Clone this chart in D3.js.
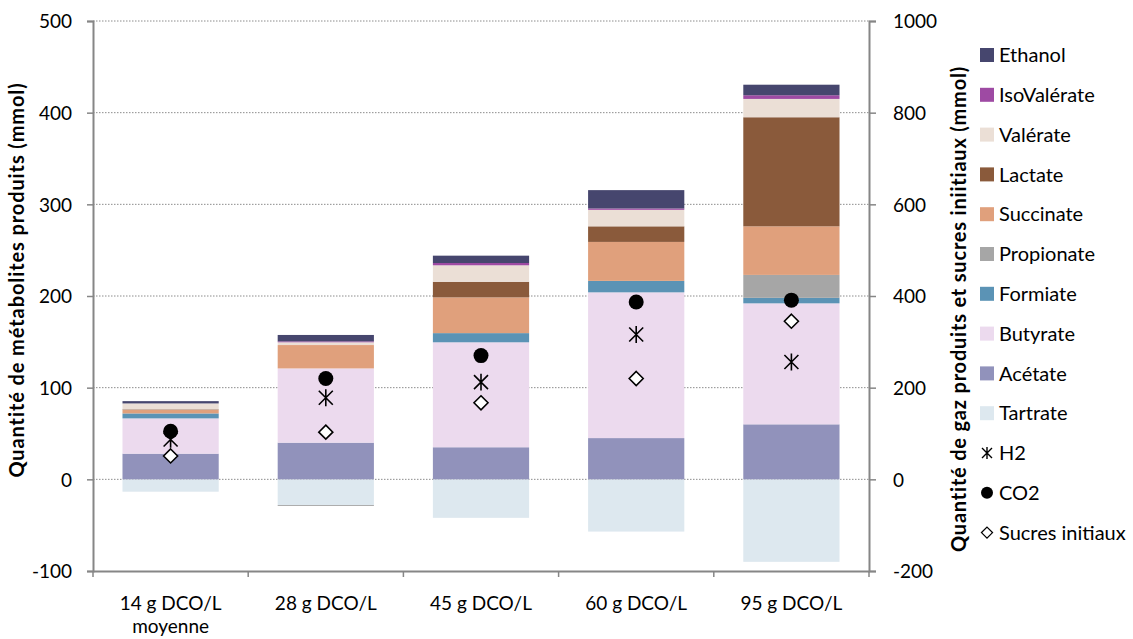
<!DOCTYPE html>
<html><head><meta charset="utf-8">
<script src="https://cdn.jsdelivr.net/npm/d3@7"></script>
<style>body{margin:0;background:#fff;} svg{display:block;font-family:Lato,"Open Sans",sans-serif;}</style>
</head><body><svg id="c" width="1133" height="639"></svg>
<script>
const categories = ["14 g DCO/L|moyenne","28 g DCO/L","45 g DCO/L","60 g DCO/L","95 g DCO/L"];
const seriesNames = ["Tartrate","Acétate","Butyrate","Formiate","Propionate","Succinate","Lactate","Valérate","IsoValérate","Ethanol"];
const tartrate   = [-13.5, -28, -42, -57, -90];
const acetate    = [28, 40, 35, 45, 60];
const butyrate   = [38.5, 81, 114.5, 159, 132];
const formiate   = [5.4, 0, 10, 12.5, 6];
const propionate = [0, -1, 0, 0, 25];
const succinate  = [3.7, 25.5, 39, 42.5, 53];
const lactate    = [0.7, 0, 17, 17, 119];
const valerate   = [6.5, 3, 18, 18, 20];
const isovalerate= [0, 1, 2.5, 1.5, 4];
const ethanol    = [2.5, 7, 8, 20, 11.5];
const h2     = [87, 178, 212, 316, 256];
const co2    = [105, 220, 270, 387, 391];
const sucres = [51, 103, 167, 220, 345];
const leftTicks = [-100,0,100,200,300,400,500];
const rightTicks = [-200,0,200,400,600,800,1000];
const colors = {"Tartrate":"#dde8ef","Acétate":"#9192bb","Butyrate":"#ecdaee","Formiate":"#5b93b5","Propionate":"#a6a6a6","Succinate":"#e0a07c","Lactate":"#8a5a3b","Valérate":"#ebdfd6","IsoValérate":"#9e4aa3","Ethanol":"#46466e"};
const seriesVals = [tartrate,acetate,butyrate,formiate,propionate,succinate,lactate,valerate,isovalerate,ethanol];

const rows = categories.map((c,i)=>{const r={cat:c}; seriesNames.forEach((s,j)=>r[s]=seriesVals[j][i]); return r;});
const svg = d3.select("#c");
const L=93, R=869, T=21, B=571;
const x = d3.scaleBand().domain(categories).range([L,R]).paddingInner(0.38).paddingOuter(0.19);
const y = d3.scaleLinear().domain([-100,500]).range([B,T]);
const y2 = d3.scaleLinear().domain([-200,1000]).range([B,T]);
const fmt = d=>String(d);

// gridlines
svg.append("g").selectAll("line").data(leftTicks.filter(t=>t>-100)).join("line")
  .attr("x1",L).attr("x2",R).attr("y1",d=>y(d)).attr("y2",d=>y(d))
  .attr("stroke","#8c8c8c").attr("stroke-width",1).attr("stroke-dasharray","1.5,1.5");

// bars
const stack = d3.stack().keys(seriesNames).offset(d3.stackOffsetDiverging);
const layers = stack(rows);
svg.append("g").selectAll("g").data(layers).join("g").attr("fill",d=>colors[d.key])
  .selectAll("rect").data(d=>d).join("rect")
  .attr("x",d=>x(d.data.cat)).attr("width",x.bandwidth())
  .attr("y",d=>y(Math.max(d[0],d[1]))).attr("height",d=>Math.abs(y(d[0])-y(d[1])));

// axes
const axL = d3.axisLeft(y).tickValues(leftTicks).tickSize(6).tickFormat(fmt);
const gL = svg.append("g").attr("transform",`translate(${L},0)`).call(axL);
const axR = d3.axisRight(y2).tickValues(rightTicks).tickSize(7).tickFormat(fmt);
const gR = svg.append("g").attr("transform",`translate(${R},0)`).call(axR);
const axB = d3.axisBottom(x).tickSize(0).tickFormat("");
const gB = svg.append("g").attr("transform",`translate(0,${B})`).call(axB);
[gL,gR,gB].forEach(g=>{g.select(".domain").attr("stroke","#868686").attr("stroke-width",2);
  g.selectAll(".tick line").attr("stroke","#868686").attr("stroke-width",1.5);
  g.selectAll("text").attr("font-family","Lato").attr("font-size",19).attr("fill","#000");});
gL.selectAll(".tick text").attr("x",-21).attr("dy","0.36em");
gR.selectAll(".tick text").attr("x",24).attr("dy","0.36em");
// category boundary ticks
const bounds = d3.range(categories.length+1).map(i=>L + i*(R-L)/categories.length);
svg.append("g").selectAll("line").data(bounds).join("line")
  .attr("x1",d=>d).attr("x2",d=>d).attr("y1",B).attr("y2",B+6)
  .attr("stroke","#868686").attr("stroke-width",1.5);
// category labels
const cl = svg.append("g").selectAll("text").data(categories).join("text")
  .attr("text-anchor","middle").attr("font-size",19).attr("fill","#000")
  .attr("x",d=>x(d)+x.bandwidth()/2).attr("y",610);
cl.each(function(d){const parts=d.split("|"); const t=d3.select(this);
  parts.forEach((p,i)=>t.append("tspan").attr("x",x(d)+x.bandwidth()/2).attr("dy",i?23:0).text(p));});

// markers
const cx = i=>x(categories[i])+x.bandwidth()/2;
const starPath = s=>`M${-s},${-s}L${s},${s}M${-s},${s}L${s},${-s}M0,${-s*1.2}L0,${s*1.2}`;
svg.append("g").selectAll("path").data(h2).join("path")
  .attr("d",starPath(7)).attr("transform",(d,i)=>`translate(${cx(i)},${y2(d)})`)
  .attr("stroke","#000").attr("stroke-width",1.6).attr("fill","none");
svg.append("g").selectAll("circle").data(co2).join("circle")
  .attr("cx",(d,i)=>cx(i)).attr("cy",d=>y2(d)).attr("r",7.5).attr("fill","#000");
svg.append("g").selectAll("path").data(sucres).join("path")
  .attr("d","M0,-7L7,0L0,7L-7,0Z").attr("transform",(d,i)=>`translate(${cx(i)},${y2(d)})`)
  .attr("stroke","#000").attr("stroke-width",1.6).attr("fill","#fff");

// axis titles
svg.append("text").attr("transform","translate(24,280) rotate(-90)").attr("text-anchor","middle")
  .attr("font-weight","bold").attr("font-size",20).attr("letter-spacing",0.9).text("Quantité de métabolites produits (mmol)");
svg.append("text").attr("transform","translate(966,309) rotate(-90)").attr("text-anchor","middle")
  .attr("font-weight","bold").attr("font-size",20).attr("letter-spacing",0.8).text("Quantité de gaz produits et sucres iniitiaux (mmol)");

// legend
const legendItems = seriesNames.slice().reverse().map(n=>({name:n,type:"rect"}))
  .concat([{name:"H2",type:"h2"},{name:"CO2",type:"co2"},{name:"Sucres initiaux",type:"suc"}]);
const lg = svg.append("g").selectAll("g").data(legendItems).join("g")
  .attr("transform",(d,i)=>`translate(980,${55+i*39.8})`);
lg.filter(d=>d.type==="rect").append("rect").attr("x",0).attr("y",-7).attr("width",14).attr("height",14).attr("fill",d=>colors[d.name]);
lg.filter(d=>d.type==="h2").append("path").attr("d",starPath(5)).attr("transform","translate(7,0)").attr("stroke","#000").attr("stroke-width",1.4).attr("fill","none");
lg.filter(d=>d.type==="co2").append("circle").attr("cx",7).attr("cy",0).attr("r",6).attr("fill","#000");
lg.filter(d=>d.type==="suc").append("path").attr("d","M0,-5.5L5.5,0L0,5.5L-5.5,0Z").attr("transform","translate(7,0)").attr("stroke","#000").attr("stroke-width",1.3).attr("fill","#fff");
lg.append("text").attr("x",19).attr("dy","0.36em").attr("font-size",20).text(d=>d.name);
</script></body></html>
